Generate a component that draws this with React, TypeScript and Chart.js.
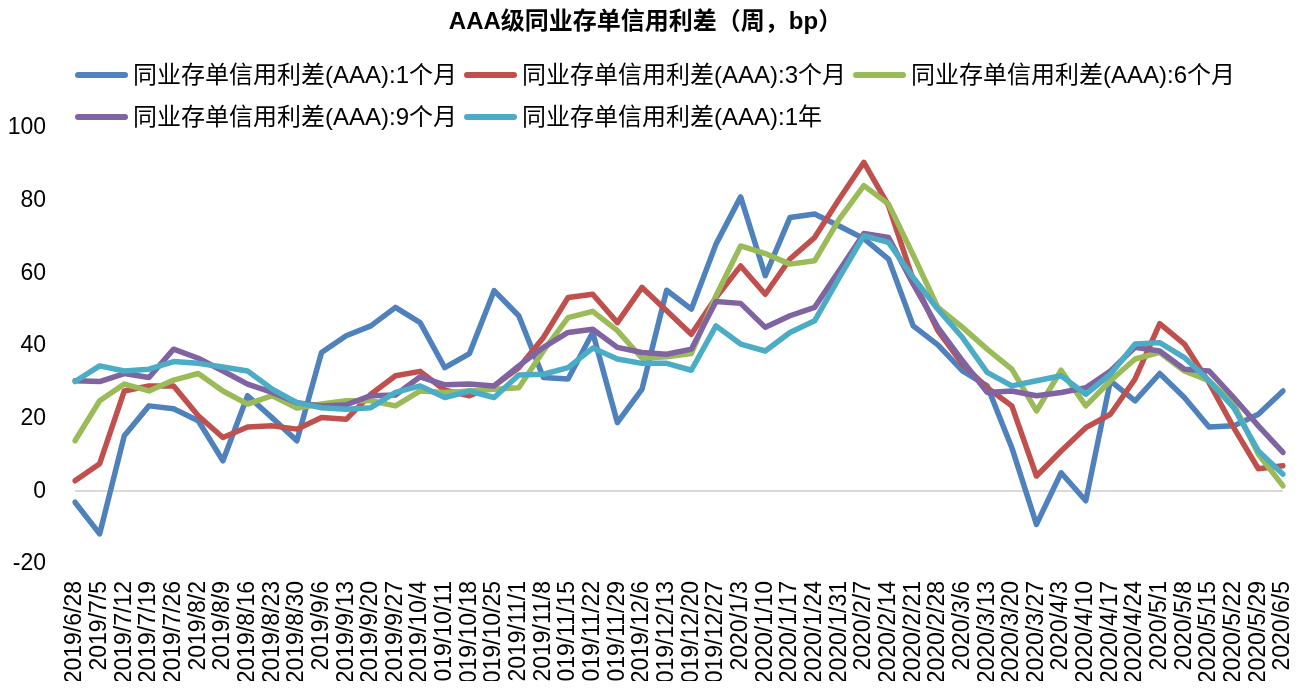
import React, { useEffect, useRef } from 'react';
import { Chart, registerables } from 'chart.js';

Chart.register(...registerables);

const categories = [
  '2019/6/28', '2019/7/5', '2019/7/12', '2019/7/19', '2019/7/26', '2019/8/2', '2019/8/9', '2019/8/16', '2019/8/23', '2019/8/30',
  '2019/9/6', '2019/9/13', '2019/9/20', '2019/9/27', '2019/10/4', '2019/10/11', '2019/10/18', '2019/10/25', '2019/11/1', '2019/11/8',
  '2019/11/15', '2019/11/22', '2019/11/29', '2019/12/6', '2019/12/13', '2019/12/20', '2019/12/27', '2020/1/3', '2020/1/10', '2020/1/17',
  '2020/1/24', '2020/1/31', '2020/2/7', '2020/2/14', '2020/2/21', '2020/2/28', '2020/3/6', '2020/3/13', '2020/3/20', '2020/3/27',
  '2020/4/3', '2020/4/10', '2020/4/17', '2020/4/24', '2020/5/1', '2020/5/8', '2020/5/15', '2020/5/22', '2020/5/29', '2020/6/5',
];

const spread1M = [
  -3.0, -11.7, 15.3, 23.5, 22.7, 19.4, 8.4, 26.3, 20.2, 13.9,
  38.2, 42.8, 45.5, 50.6, 46.4, 34.0, 37.9, 55.2, 48.3, 31.3,
  30.9, 43.7, 18.9, 28.1, 55.3, 50.1, 68.0, 81.0, 59.3, 75.3,
  76.3, 73.0, 69.5, 63.9, 45.5, 40.3, 33.1, 29.0, 12.0, -9.1,
  5.1, -2.6, 30.4, 24.9, 32.4, 25.8, 17.7, 18.0, 21.2, 27.6,
];

const spread3M = [
  2.9, 7.6, 27.6, 29.0, 29.0, 20.8, 14.8, 17.7, 18.0, 17.1,
  20.3, 19.8, 26.7, 31.8, 33.0, 27.8, 26.3, 29.0, 34.0, 42.3,
  53.3, 54.2, 46.4, 56.1, 49.7, 43.2, 53.3, 62.0, 54.2, 63.9,
  69.8, 80.4, 90.5, 78.6, 58.2, 44.2, 35.0, 28.5, 23.5, 4.2,
  11.1, 17.5, 21.2, 30.9, 46.1, 40.5, 29.9, 17.5, 6.2, 7.0,
];

const spread6M = [
  13.9, 24.9, 29.5, 27.6, 30.6, 32.4, 27.6, 24.0, 26.3, 22.9,
  24.0, 24.9, 24.9, 23.5, 27.6, 27.2, 27.6, 28.1, 28.5, 38.6,
  47.8, 49.5, 44.2, 36.6, 37.0, 37.9, 53.8, 67.5, 65.4, 62.5,
  63.4, 74.9, 84.1, 79.0, 65.0, 50.6, 45.1, 39.1, 33.6, 22.1,
  33.3, 23.5, 30.4, 36.4, 38.2, 33.1, 30.4, 24.0, 10.2, 1.5,
];

const spread9M = [
  30.4, 30.2, 32.4, 31.3, 39.1, 36.6, 33.1, 29.5, 27.2, 24.4,
  23.5, 23.8, 26.3, 26.5, 31.5, 29.3, 29.5, 29.0, 34.5, 39.6,
  43.7, 44.6, 39.6, 38.2, 37.7, 39.1, 52.2, 51.7, 45.1, 48.3,
  50.6, 60.7, 70.9, 69.8, 57.0, 45.1, 35.9, 27.2, 27.6, 26.3,
  27.2, 28.5, 33.1, 39.6, 38.6, 33.6, 33.1, 25.8, 18.0, 10.7,
];

const spread1Y = [
  30.2, 34.5, 33.1, 33.6, 35.7, 35.2, 34.2, 33.1, 28.1, 24.4,
  23.0, 22.6, 23.0, 27.2, 29.0, 25.8, 27.6, 25.8, 32.0, 32.2,
  34.0, 39.4, 36.4, 35.2, 35.2, 33.3, 45.5, 40.5, 38.6, 43.7,
  46.9, 58.8, 70.3, 68.5, 58.8, 50.1, 42.3, 32.7, 29.0, 30.4,
  31.8, 26.7, 32.2, 40.5, 40.9, 36.8, 30.4, 23.0, 11.1, 4.7,
];

const seriesNames = [
  '同业存单信用利差(AAA):1个月',
  '同业存单信用利差(AAA):3个月',
  '同业存单信用利差(AAA):6个月',
  '同业存单信用利差(AAA):9个月',
  '同业存单信用利差(AAA):1年',
];
const seriesColors = ['#4F81BD', '#C0504D', '#9BBB59', '#8064A2', '#4BACC6'];
const seriesValues = [spread1M, spread3M, spread6M, spread9M, spread1Y];

const titleText = 'AAA级同业存单信用利差（周，bp）';
const yMin = -20;
const yMax = 100;
const yStep = 20;

const FONT = '"Liberation Sans", Arial, "Noto Sans CJK SC", sans-serif';

const legendPlugin = {
  id: 'customLegend',
  afterDraw(chart: any) {
    const { ctx, chartArea } = chart;
    ctx.save();
    ctx.font = `24px ${FONT}`;
    ctx.textBaseline = 'middle';
    ctx.textAlign = 'left';
    ctx.fillStyle = '#000000';
    let x = chartArea.left;
    let y = 67;
    const maxX = chart.width - 10;
    chart.data.datasets.forEach((ds: any) => {
      const label = ds.label as string;
      const tw = ctx.measureText(label).width;
      const w = 58 + tw;
      if (x + w > maxX) {
        x = chartArea.left;
        y += 42;
      }
      ctx.strokeStyle = ds.borderColor;
      ctx.lineWidth = 6;
      ctx.lineCap = 'round';
      ctx.beginPath();
      ctx.moveTo(x + 3, y);
      ctx.lineTo(x + 50, y);
      ctx.stroke();
      ctx.fillText(label, x + 58, y + 1);
      x += w + 7;
    });
    ctx.restore();
  },
};

export default function App() {
  const canvasRef = useRef<HTMLCanvasElement | null>(null);

  useEffect(() => {
    if (!canvasRef.current) return;
    const chart = new Chart(canvasRef.current, {
      type: 'line',
      data: {
        labels: categories,
        datasets: seriesValues.map((vals, i) => ({
          label: seriesNames[i],
          data: vals,
          borderColor: seriesColors[i],
          backgroundColor: seriesColors[i],
          borderWidth: 5.5,
          pointRadius: 0,
          pointHoverRadius: 0,
          tension: 0,
          fill: false,
          borderJoinStyle: 'round' as const,
          borderCapStyle: 'round' as const,
          order: seriesValues.length - i,
        })),
      },
      options: {
        responsive: true,
        maintainAspectRatio: false,
        animation: false,
        layout: { padding: { left: 0, right: 15, top: 0, bottom: 0 } },
        plugins: {
          legend: { display: false },
          tooltip: { enabled: false },
          title: {
            display: true,
            text: titleText,
            color: '#000000',
            font: { family: FONT, size: 24, weight: 'bold' },
            padding: { top: 0, bottom: 91 },
          },
        },
        scales: {
          x: {
            type: 'category',
            grid: { display: false },
            border: { display: false },
            ticks: {
              autoSkip: false,
              minRotation: 90,
              maxRotation: 90,
              color: '#000000',
              padding: 9,
              font: { family: FONT, size: 23 },
            },
            afterFit: (scale: any) => {
              scale.height = 132;
              scale.paddingLeft = 0;
              scale.paddingRight = 0;
            },
          },
          y: {
            min: yMin,
            max: yMax,
            border: { display: false },
            grid: {
              drawTicks: false,
              lineWidth: 2,
              color: (c: any) => (c.tick && c.tick.value === 0 ? '#D9D9D9' : 'rgba(0,0,0,0)'),
            },
            ticks: {
              stepSize: yStep,
              color: '#000000',
              padding: 29,
              font: { family: FONT, size: 23 },
            },
            afterFit: (scale: any) => {
              scale.width = 67;
            },
          },
        },
      },
      plugins: [legendPlugin],
    });
    return () => chart.destroy();
  }, []);

  return (
    <div style={{ height: 681, overflow: 'hidden', marginBottom: -8 }}>
      <div style={{ position: 'relative', width: '100%', height: 688 }}>
        <canvas ref={canvasRef} />
      </div>
    </div>
  );
}
